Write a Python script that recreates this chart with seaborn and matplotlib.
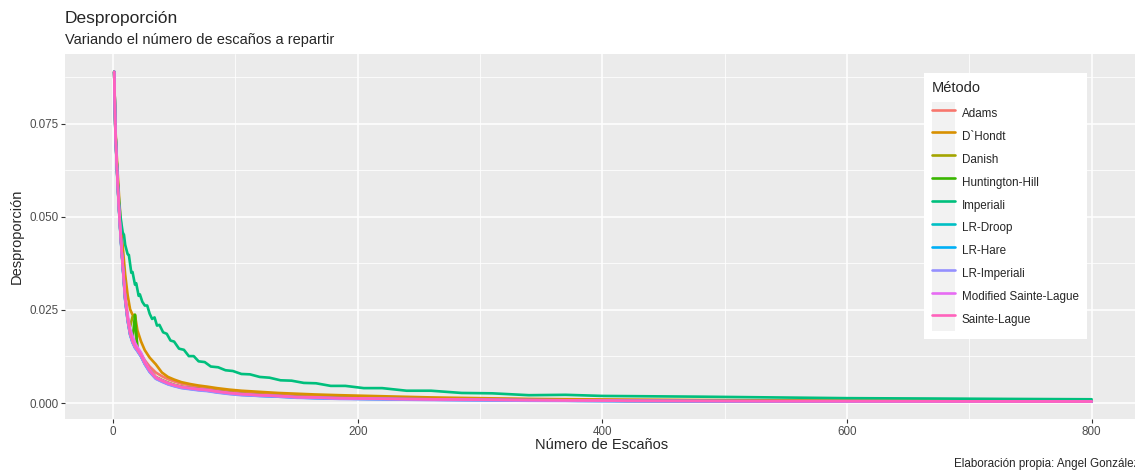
import matplotlib
matplotlib.use("Agg")
import matplotlib.pyplot as plt
import pandas as pd
import seaborn as sns
from matplotlib.ticker import MultipleLocator, FormatStrFormatter
from matplotlib.patches import Rectangle
from matplotlib.lines import Line2D
from matplotlib.legend_handler import HandlerTuple

# seats to distribute (x axis)
SEATS = [1, 2, 3, 4, 5, 6, 7, 8, 10, 12, 14, 16, 18, 20, 23, 26, 30, 35, 40, 45,
         50, 56, 63, 70, 77, 85, 95, 105, 120, 135, 150, 165, 185, 210, 235, 260,
         300, 340, 380, 420, 480, 540, 600, 670, 730, 800]
# Imperiali is read at more points to keep its saw-tooth shape
IMPERIALI_SEATS = [1, 2, 3, 4, 5, 6, 7, 8, 9, 10, 12, 13, 15, 16, 18, 19, 21, 22, 24, 26,
                   28, 30, 32, 34, 36, 38, 41, 44, 47, 50, 54, 58, 62, 66, 70, 75, 80, 86,
                   92, 98, 105, 112, 120, 128, 137, 146, 156, 166, 178, 190, 205, 220, 240,
                   260, 285, 310, 340, 370, 400, 440, 480, 540, 600, 670, 730, 800]

ADAMS = [0.0890, 0.0730, 0.0650, 0.0582, 0.0522, 0.0468, 0.0418, 0.0372, 0.0283, 0.0228,
         0.0190, 0.0170, 0.0155, 0.0146, 0.0132, 0.0115, 0.0098, 0.0082, 0.0072, 0.0064,
         0.0058, 0.0052, 0.0048, 0.0044, 0.0041, 0.0037, 0.0033, 0.0030, 0.0027, 0.0024,
         0.0022, 0.0020, 0.0018, 0.0016, 0.0015, 0.0013, 0.0011, 0.0010, 0.0009, 0.0008,
         0.0007, 0.0006, 0.00055, 0.0005, 0.00047, 0.00044]
D_HONDT = [0.0890, 0.0740, 0.0670, 0.0610, 0.0555, 0.0505, 0.0460, 0.0420, 0.0345, 0.0290,
           0.0252, 0.0237, 0.0236, 0.0195, 0.0165, 0.0142, 0.0122, 0.0104, 0.0082, 0.0070,
           0.0063, 0.0056, 0.0051, 0.0047, 0.0044, 0.0040, 0.0036, 0.0033, 0.0030, 0.0027,
           0.0025, 0.0023, 0.0021, 0.0019, 0.0017, 0.0015, 0.0013, 0.0011, 0.0010, 0.0009,
           0.0008, 0.0007, 0.00065, 0.0006, 0.00055, 0.0005]
DANISH = [0.0890, 0.0730, 0.0652, 0.0583, 0.0523, 0.0468, 0.0418, 0.0373, 0.0284, 0.0230,
          0.0205, 0.0232, 0.0237, 0.0145, 0.0130, 0.0110, 0.0089, 0.0070, 0.0062, 0.0055,
          0.0049, 0.0044, 0.0041, 0.0038, 0.0035, 0.0032, 0.0028, 0.0025, 0.0022, 0.0019,
          0.0017, 0.0015, 0.0014, 0.0012, 0.0011, 0.0010, 0.0009, 0.0008, 0.0007, 0.0006,
          0.00055, 0.0005, 0.00048, 0.00045, 0.00042, 0.0004]
HUNTINGTON_HILL = [0.0890, 0.0731, 0.0651, 0.0581, 0.0521, 0.0466, 0.0416, 0.0371, 0.0281, 0.0226,
                   0.0188, 0.0168, 0.0237, 0.0142, 0.0128, 0.0108, 0.0087, 0.0068, 0.0060, 0.0053,
                   0.0048, 0.0043, 0.0040, 0.0037, 0.0035, 0.0031, 0.0027, 0.0024, 0.0021, 0.0019,
                   0.0016, 0.0015, 0.0013, 0.0012, 0.0011, 0.0010, 0.0009, 0.0008, 0.0007, 0.0006,
                   0.00055, 0.0005, 0.00048, 0.00045, 0.00042, 0.0004]
IMPERIALI = [0.0890, 0.0735, 0.0655, 0.0590, 0.0540, 0.0505, 0.0480, 0.0458, 0.0452, 0.0425,
             0.0400, 0.0398, 0.0350, 0.0352, 0.0318, 0.0322, 0.0288, 0.0292, 0.0272, 0.0262,
             0.0262, 0.0240, 0.0226, 0.0230, 0.0208, 0.0210, 0.0190, 0.0186, 0.0168, 0.0165,
             0.0146, 0.0143, 0.0126, 0.0126, 0.0112, 0.0110, 0.0098, 0.0096, 0.0088, 0.0086,
             0.0078, 0.0077, 0.0070, 0.0068, 0.0061, 0.0060, 0.0054, 0.0053, 0.0046, 0.0046,
             0.0040, 0.0040, 0.0033, 0.0033, 0.0027, 0.0026, 0.0021, 0.0022, 0.0019, 0.0018,
             0.0017, 0.0015, 0.0013, 0.0012, 0.0011, 0.0010]
LR_DROOP = [0.0890, 0.0728, 0.0648, 0.0578, 0.0518, 0.0463, 0.0413, 0.0368, 0.0278, 0.0223,
            0.0185, 0.0164, 0.0150, 0.0141, 0.0126, 0.0106, 0.0085, 0.0067, 0.0059, 0.0052,
            0.0047, 0.0042, 0.0039, 0.0036, 0.0034, 0.0030, 0.0026, 0.0023, 0.0020, 0.0018,
            0.0015, 0.0014, 0.0012, 0.0011, 0.0010, 0.0009, 0.0008, 0.0007, 0.0006, 0.00055,
            0.0005, 0.00046, 0.00044, 0.00041, 0.00039, 0.00037]
LR_HARE = [0.0890, 0.0727, 0.0647, 0.0577, 0.0517, 0.0462, 0.0412, 0.0367, 0.0277, 0.0222,
           0.0184, 0.0163, 0.0149, 0.0140, 0.0125, 0.0105, 0.0084, 0.0066, 0.0058, 0.0051,
           0.0046, 0.0041, 0.0038, 0.0035, 0.0033, 0.0029, 0.0025, 0.0022, 0.0019, 0.0017,
           0.0015, 0.0013, 0.0012, 0.0011, 0.0010, 0.0009, 0.0008, 0.0007, 0.0006, 0.00052,
           0.00048, 0.00045, 0.00042, 0.0004, 0.00038, 0.00036]
LR_IMPERIALI = [0.0890, 0.0726, 0.0646, 0.0576, 0.0516, 0.0461, 0.0411, 0.0366, 0.0276, 0.0221,
                0.0183, 0.0162, 0.0148, 0.0139, 0.0124, 0.0104, 0.0083, 0.0065, 0.0057, 0.0050,
                0.0045, 0.0040, 0.0037, 0.0034, 0.0032, 0.0028, 0.0024, 0.0021, 0.0019, 0.0017,
                0.0014, 0.0013, 0.0011, 0.0010, 0.0009, 0.0008, 0.0007, 0.0006, 0.00055, 0.0005,
                0.00046, 0.00043, 0.0004, 0.00038, 0.00036, 0.00035]
MODIFIED_SAINTE_LAGUE = [0.0890, 0.0730, 0.0650, 0.0580, 0.0520, 0.0466, 0.0417, 0.0373, 0.0288, 0.0238,
                         0.0200, 0.0180, 0.0162, 0.0150, 0.0135, 0.0112, 0.0089, 0.0069, 0.0061, 0.0054,
                         0.0048, 0.0043, 0.0040, 0.0037, 0.0035, 0.0031, 0.0027, 0.0024, 0.0021, 0.0019,
                         0.0016, 0.0015, 0.0013, 0.0012, 0.0011, 0.0010, 0.0009, 0.0008, 0.0007, 0.0006,
                         0.00055, 0.0005, 0.00048, 0.00045, 0.00042, 0.0004]
SAINTE_LAGUE = [0.0890, 0.0730, 0.0650, 0.0580, 0.0520, 0.0465, 0.0415, 0.0370, 0.0280, 0.0225,
                0.0187, 0.0166, 0.0152, 0.0143, 0.0128, 0.0108, 0.0087, 0.0068, 0.0060, 0.0053,
                0.0048, 0.0043, 0.0040, 0.0037, 0.0035, 0.0031, 0.0027, 0.0024, 0.0021, 0.0019,
                0.0016, 0.0015, 0.0013, 0.0012, 0.0011, 0.0010, 0.0009, 0.0008, 0.0007, 0.0006,
                0.00055, 0.0005, 0.00048, 0.00045, 0.00042, 0.0004]

METHODS = ["Adams", "D`Hondt", "Danish", "Huntington-Hill", "Imperiali", "LR-Droop",
           "LR-Hare", "LR-Imperiali", "Modified Sainte-Lague", "Sainte-Lague"]
SERIES = [ADAMS, D_HONDT, DANISH, HUNTINGTON_HILL, IMPERIALI, LR_DROOP,
          LR_HARE, LR_IMPERIALI, MODIFIED_SAINTE_LAGUE, SAINTE_LAGUE]
COLORS = ["#F8766D", "#D89000", "#A3A500", "#39B600", "#00BF7D", "#00BFC4",
          "#00B0F6", "#9590FF", "#E76BF3", "#FF62BC"]

frames = []
for name, vals in zip(METHODS, SERIES):
    xs = IMPERIALI_SEATS if name == "Imperiali" else SEATS
    frames.append(pd.DataFrame({"seats": xs, "value": vals, "method": name}))
df = pd.concat(frames, ignore_index=True)

sns.set_theme(style="darkgrid", rc={"axes.facecolor": "#EBEBEB",
                                    "grid.color": "white",
                                    "figure.facecolor": "white"})
plt.rcParams["font.family"] = ["Liberation Sans", "DejaVu Sans"]

W, H = 1135, 472
fig = plt.figure(figsize=(W / 100, H / 100), dpi=100)
ax = fig.add_axes([65 / W, (H - 419) / H, 1075 / W, 365 / H])

sns.lineplot(data=df, x="seats", y="value", hue="method", hue_order=METHODS,
             palette=COLORS, linewidth=1.9, errorbar=None, legend=False, ax=ax)

ax.set_xlim(-39.2, 839.5)
ax.set_ylim(-0.0043, 0.0938)
ax.xaxis.set_major_locator(MultipleLocator(200))
ax.xaxis.set_minor_locator(MultipleLocator(100))
ax.yaxis.set_major_locator(MultipleLocator(0.025))
ax.yaxis.set_minor_locator(MultipleLocator(0.0125))
ax.yaxis.set_major_formatter(FormatStrFormatter("%.3f"))
ax.grid(which="major", color="white", linewidth=1.1)
ax.grid(which="minor", color="white", linewidth=0.55)
for s in ax.spines.values():
    s.set_visible(False)
ax.tick_params(which="major", bottom=True, left=True, length=2.7, width=0.8,
               color="#333333", labelsize=8.4, labelcolor="#4D4D4D", pad=2)
ax.tick_params(which="minor", length=0)
ax.set_xlabel("")
ax.set_ylabel("")

fig.text(65 / W, 1 - 23 / H, "Desproporción", fontsize=12.5, va="baseline")
fig.text(65 / W, 1 - 44 / H, "Variando el número de escaños a repartir",
         fontsize=10.5, va="baseline")
fig.text(602 / W, 1 - 449 / H, "Número de Escaños", fontsize=10.5,
         ha="center", va="baseline")
fig.text(17 / W, 1 - 236.5 / H, "Desproporción", fontsize=10.5, rotation=90,
         ha="center", va="center")
# caption is cut at the right edge in the reference too
fig.text(1140 / W, 1 - 467 / H, "Elaboración propia: Angel González",
         fontsize=8.4, ha="right", va="baseline")

handles = [(Rectangle((0, 0), 1, 1, facecolor="#F2F2F2", edgecolor="none"),
            Line2D([], [], color=c, linewidth=1.9)) for c in COLORS]
leg = ax.legend(handles, METHODS, handler_map={tuple: HandlerTuple(ndivide=1, pad=0)},
                title="Método", loc="upper right",
                bbox_to_anchor=(1087 / W, 1 - 73 / H), bbox_transform=fig.transFigure,
                borderaxespad=0, frameon=True, fancybox=False, framealpha=1,
                facecolor="white", edgecolor="white", fontsize=8.4, title_fontsize=10.5,
                handlelength=1.95, handleheight=2.64, labelspacing=0,
                handletextpad=0.6, borderpad=0.7, alignment="left")
leg.get_frame().set_linewidth(0)
leg._legend_box.sep = 5  # gap between title and keys

fig.savefig("out.png", dpi=100)
